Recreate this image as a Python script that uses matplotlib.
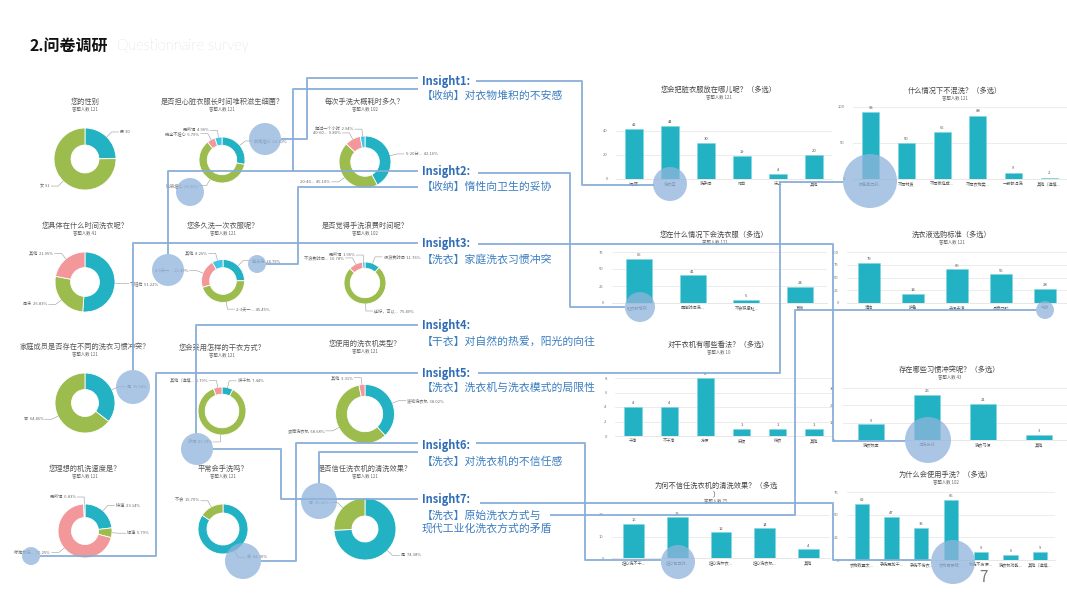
import numpy as np
import matplotlib
matplotlib.use("Agg")
import matplotlib.pyplot as plt
from matplotlib.patches import Circle

plt.rcParams['font.family'] = ['Noto Sans CJK SC', 'DejaVu Sans']

W, H = 1067, 600
TEAL, GREEN, PINK, SKY = '#22B2C3', '#9CBD4E', '#F3989A', '#3DC6E6'
LINE = '#86ADD8'
BUBBLE = '#8FB4DB'

# ---- donut data (percentages) ----
gender_names = ['男', '女']
gender_pcts = [24.79, 75.21]
germ_names = ['非常担心', '比较担心', '完全不担心', '无所谓']
germ_pcts = [28.10, 61.16, 5.79, 4.96]
handtime_names = ['5-20分...', '20-40...', '40-60...', '超过一个小时']
handtime_pcts = [42.16, 45.10, 9.80, 2.94]
when_names = ['下班后', '周末', '其他']
when_pcts = [51.22, 26.83, 21.95]
freq_names = ['每天洗', '2-3天一...', '4-6天一...', '其他']
freq_pcts = [24.79, 45.45, 21.49, 8.26]
waste_names = ['很浪费时间', '还好，可以...', '不浪费时间...', '无所谓']
waste_pcts = [11.76, 75.49, 10.78, 1.96]
conflict_names = ['是', '否']
conflict_pcts = [35.54, 64.46]
dry_names = ['烘干机', '晾晒', '其他（选填...']
dry_pcts = [7.44, 86.78, 5.79]
machine_names = ['波轮洗衣机', '滚筒洗衣机', '其他']
machine_pcts = [38.02, 58.68, 3.31]
speed_names = ['快速', '慢速', '标准机洗...', '无所谓']
speed_pcts = [23.14, 5.79, 70.25, 0.83]
hand_names = ['会', '不会']
hand_pcts = [84.30, 15.70]
trust_names = ['是', '否']
trust_pcts = [74.38, 25.62]

# ---- bar data ----
b1_cats = ['桶/篮', '洗衣篮', '洗手间', '阳台', '床上', '其他']
b1_vals = [42, 44, 30, 19, 4, 20]
b2_cats = ['颜色差异较...', '不同材质', '不同家庭成...', '不同衣物类...', '一般都混洗', '其他（选填...']
b2_vals = [93, 50, 65, 88, 9, 2]
b3_cats = ['脏衣服堆积...', '固定时间洗...', '不会积攒脏...', '其他']
b3_vals = [65, 41, 5, 24]
b4_cats = ['清洁', '护色', '去污去渍', '品牌口碑', '气味']
b4_vals = [79, 18, 66, 56, 28]
b5_cats = ['干净', '不干净', '方便', '麻烦', '伤衣', '其他']
b5_vals = [4, 4, 8, 1, 1, 1]
b6_cats = ['洗衣频率', '混洗方式', '洗衣习惯', '其他']
b6_vals = [9, 26, 21, 3]
b7_cats = ['担心洗不干...', '担心有异味...', '担心洗坏衣...', '担心洗衣机...', '其他']
b7_vals = [16, 19, 12, 14, 4]
b8_cats = ['衣物数量太...', '手洗更加干...', '手洗不伤衣...', '衣物需要精...', '机洗不方便...', '洗衣机功能...', '其他（选填...']
b8_vals = [62, 47, 35, 66, 9, 6, 9]

insight_heads = ['Insight1:', 'Insight2:', 'Insight3:', 'Insight4:', 'Insight5:', 'Insight6:', 'Insight7:']
insight_texts = ['【收纳】对衣物堆积的不安感', '【收纳】惰性向卫生的妥协', '【洗衣】家庭洗衣习惯冲突',
                 '【干衣】对自然的热爱，阳光的向往', '【洗衣】洗衣机与洗衣模式的局限性',
                 '【洗衣】对洗衣机的不信任感', '【洗衣】原始洗衣方式与\n现代工业化洗衣方式的矛盾']

fig = plt.figure(figsize=(W / 100, H / 100), dpi=100)
fig.patch.set_facecolor('white')


def px_axes(x0, y0, x1, y1, z=1):
    return fig.add_axes([x0 / W, 1 - y1 / H, (x1 - x0) / W, (y1 - y0) / H], zorder=z)


ov = fig.add_axes([0, 0, 1, 1], zorder=10)
ov.set_xlim(0, W)
ov.set_ylim(H, 0)
ov.axis('off')
ov.patch.set_alpha(0)

# title
ov.text(30, 46, '2.问卷调研', fontsize=11.5, fontweight='bold', color='#111', va='center')
ov.text(117, 46, 'Questionnaire survey', fontsize=10.5, color='#BDBDBD', va='center',
        family=['Lato', 'DejaVu Sans'], fontweight='light')

# ---- donuts ----  (title, n, names, pcts, (cx, cy, r), title_y, ring width)
donuts = [
    ('您的性别', 121, gender_names, gender_pcts, (85, 159, 31), 102, 0.55),
    ('是否担心脏衣服长时间堆积滋生细菌？', 121, germ_names, germ_pcts, (222, 160, 23), 102, 0.36),
    ('每次手洗大概耗时多久？', 102, handtime_names, handtime_pcts, (365, 162, 26), 102, 0.45),
    ('您具体在什么时间洗衣呢？', 41, when_names, when_pcts, (85, 282, 30), 226, 0.52),
    ('您多久洗一次衣服呢？', 121, freq_names, freq_pcts, (223, 281, 21.5), 226, 0.38),
    ('是否觉得手洗浪费时间呢？', 102, waste_names, waste_pcts, (365, 283, 21), 226, 0.3),
    ('家庭成员是否存在不同的洗衣习惯冲突？', 121, conflict_names, conflict_pcts, (85, 403, 30), 347, 0.55),
    ('您会采用怎样的干衣方式？', 121, dry_names, dry_pcts, (222, 411, 24), 348, 0.3),
    ('您使用的洗衣机类型？', 121, machine_names, machine_pcts, (365, 414, 29.5), 344, 0.4),
    ('您理想的机洗速度是？', 121, speed_names, speed_pcts, (85, 531, 27), 469, 0.5),
    ('平常会手洗吗？', 121, hand_names, hand_pcts, (223, 529, 25), 469, 0.36),
    ('是否信任洗衣机的清洗效果？', 121, trust_names, trust_pcts, (365, 529, 31), 469, 0.58),
]
cols = [TEAL, GREEN, PINK, SKY]

for title, n, names, pcts, (cx, cy, r), ty, ring in donuts:
    ax = px_axes(cx - r, cy - r, cx + r, cy + r)
    ax.pie(pcts, colors=cols[:len(pcts)], startangle=90, counterclock=False,
           wedgeprops=dict(width=ring, edgecolor='white', linewidth=0.6))
    ax.set_xlim(-1, 1)
    ax.set_ylim(-1, 1)
    ov.text(cx, ty, title, fontsize=5.2, color='#555', ha='center', va='center')
    ov.text(cx, ty + 7, '答题人数 %d' % n, fontsize=3.2, color='#666', ha='center', va='center')
    cum = 0
    for name, p in zip(names, pcts):
        th = np.deg2rad(90 - (cum + p / 2) * 3.6)
        cum += p
        ex, ey = cx + r * np.cos(th), cy - r * np.sin(th)
        bx, by = cx + (r + 7) * np.cos(th), cy - (r + 7) * np.sin(th)
        side = 1 if np.cos(th) >= 0 else -1
        tx = bx + side * 7
        ov.plot([ex, bx, tx], [ey, by, by], color='#999', lw=0.4, zorder=2)
        if title == '您的性别':
            lab = '%s %d' % (name, round(p * n / 100))
        else:
            lab = '%s  %.2f%%' % (name, p)
        ov.text(tx + side * 1.5, by, lab, fontsize=3, color='#666',
                ha='left' if side > 0 else 'right', va='center', zorder=3)

# ---- bar charts ----
bars = [
    ('您会把脏衣服放在哪儿呢？（多选）', 121, b1_cats, b1_vals, (616, 832, 179), 50, 20, 90),
    ('什么情况下不混洗？（多选）', 121, b2_cats, b2_vals, (853, 1067, 179), 100, 50, 91),
    ('您在什么情况下会洗衣服（多选）', 121, b3_cats, b3_vals, (612, 827, 303), 75, 25, 235),
    ('洗衣液选购标准（多选）', 121, b4_cats, b4_vals, (847, 1067, 303), 100, 25, 235),
    ('对干衣机有哪些看法？（多选）', 10, b5_cats, b5_vals, (615, 832, 436), 8, 2, 345),
    ('存在哪些习惯冲突呢？（多选）', 43, b6_cats, b6_vals, (843, 1067, 440), 30, 10, 370),
    ('为何不信任洗衣机的清洗效果？（多选\n）', 75, b7_cats, b7_vals, (612, 830, 558), 20, 10, 490),
    ('为什么会使用手洗？（多选）', 102, b8_cats, b8_vals, (847, 1055, 560), 75, 25, 475),
]
heights = [60, 72, 51, 51, 58, 52, 43, 68]

for (title, n, cats, vals, (x0, x1, yb), ymax, step, ty), hgt in zip(bars, heights):
    ax = px_axes(x0, yb - hgt, x1, yb)
    xs = np.arange(len(vals))
    ax.bar(xs, vals, width=0.48, color=TEAL, edgecolor='#7FD6DF', linewidth=0.4, zorder=3)
    ax.set_ylim(0, ymax)
    ax.set_xlim(-0.5, len(vals) - 0.5)
    ax.set_yticks(np.arange(0, ymax + 1, step))
    ax.set_xticks(xs)
    ax.set_xticklabels(cats, fontsize=3, color='#555')
    ax.tick_params(axis='y', labelsize=3, colors='#777', length=0, pad=6)
    ax.tick_params(axis='x', length=0, pad=2)
    ax.grid(axis='y', color='#E4E4E4', lw=0.5)
    for s in ['top', 'right', 'left']:
        ax.spines[s].set_visible(False)
    ax.spines['bottom'].set_color('#DDD')
    ax.spines['bottom'].set_linewidth(0.5)
    ax.patch.set_alpha(0)
    for x, v in zip(xs, vals):
        ax.text(x, v + ymax * 0.03, str(v), ha='center', va='bottom', fontsize=3, color='#555')
    cx = (x0 + x1) / 2 - 5
    ov.text(cx, ty, title, fontsize=5.2, color='#444', ha='center', va='center', linespacing=1.1)
    sub_y = ty + (11 if '\n' in title else 7)
    ov.text(cx, sub_y, '答题人数 %d' % n, fontsize=3.2, color='#666', ha='center', va='center')

# ---- connector lines ----
paths = [
    [(418, 78), (307, 78), (307, 139), (281, 139)],
    [(418, 89), (293, 89), (293, 171)],
    [(418, 171), (168, 171), (168, 254)],
    [(418, 187), (298, 187), (298, 264), (266, 264)],
    [(418, 243), (133, 243), (133, 370)],
    [(418, 325), (196, 325), (196, 433)],
    [(418, 373), (156, 373), (156, 556), (40, 556)],
    [(213, 449), (281, 449), (281, 499), (418, 499)],
    [(418, 443), (296, 443), (296, 561), (261, 561)],
    [(418, 452), (319, 452), (319, 483)],
    [(476, 81), (582, 81), (582, 185), (654, 185)],
    [(478, 173), (570, 173), (570, 307), (625, 307)],
    [(478, 244), (833, 244), (833, 441), (905, 441)],
    [(478, 373), (780, 373), (780, 182), (843, 182)],
    [(476, 443), (585, 443), (585, 560), (661, 560)],
    [(480, 503), (833, 503), (833, 560), (931, 560)],
    [(550, 515), (795, 515), (795, 310), (1036, 310)],
]
for p in paths:
    xs, ys = zip(*p)
    ov.plot(xs, ys, color=LINE, lw=1.4, alpha=0.9, zorder=4, solid_capstyle='butt')

bubbles = [(265, 139, 16), (190, 192, 14), (168, 270, 16), (257, 264, 9), (133, 387, 17),
           (197, 449, 16), (31, 556, 9), (243, 561, 18), (319, 501, 18),
           (670, 184, 17), (870, 181, 27), (640, 307, 15), (1045, 310, 9),
           (928, 440, 23), (678, 562, 17), (953, 562, 22)]
for x, y, r in bubbles:
    ov.add_patch(Circle((x, y), r, facecolor=BUBBLE, edgecolor='none', alpha=0.75, zorder=5))

# ---- insight texts ----
head_y = [81, 172, 244, 326, 373, 446, 500]
for h, t, y in zip(insight_heads, insight_texts, head_y):
    ov.text(422, y, h, fontsize=8, fontweight='bold', color='#2F6DB5', va='center', zorder=6)
    ty2 = y + 22 if '\n' in t else y + 15
    ov.text(422, ty2, t, fontsize=7.8, color='#3A7DC0', va='center', linespacing=1.3, zorder=6)

ov.text(984, 577, '7', fontsize=11, color='#777', ha='center', va='center', fontweight='light')

fig.savefig('out.png', dpi=100)
